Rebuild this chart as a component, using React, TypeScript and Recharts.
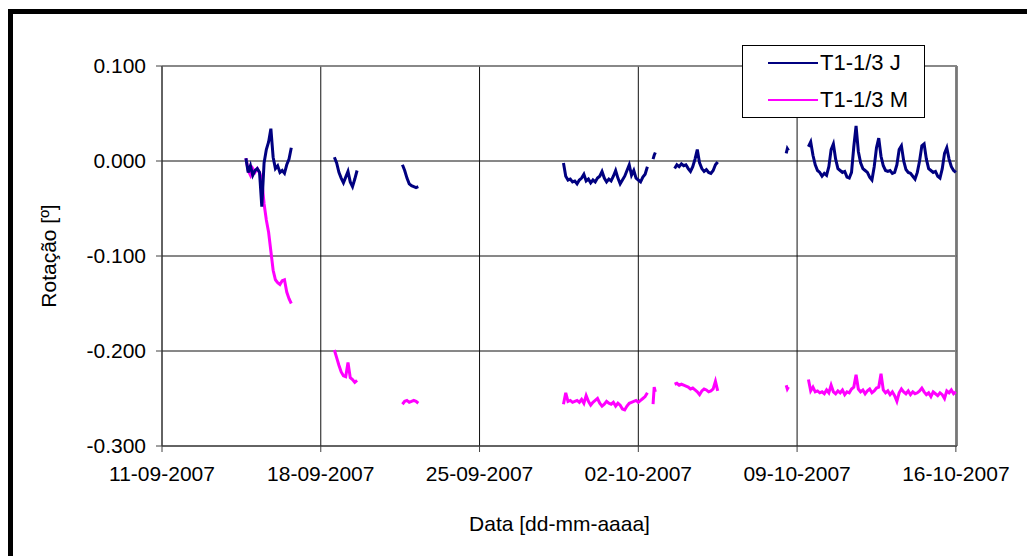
import React from 'react';
import { LineChart, Line, XAxis, YAxis, CartesianGrid, Legend, ReferenceLine } from 'recharts';

// eixo X: dias contados a partir de 11-09-2007
const tickDays = [0, 7, 14, 21, 28, 35];
const tickDates = ['11-09-2007', '18-09-2007', '25-09-2007', '02-10-2007', '09-10-2007', '16-10-2007'];
const yTicks = [-0.3, -0.2, -0.1, 0, 0.1];

// inicio e passo (dias) de cada trecho de leitura
const segStarts = [3.7, 7.6, 10.6, 17.7, 21.65, 22.6, 27.52, 28.5];
const segSteps = [0.1, 0.1, 0.1, 0.1, 0.05, 0.1, 0.05, 0.1];

// T1-1/3 J
const j1 = [0.003, -0.012, -0.005, -0.015, -0.010, -0.008, -0.012, -0.048, -0.002, 0.012, 0.020, 0.034, 0.004, -0.008, -0.005, -0.012, -0.010, -0.013, -0.004, 0.002, 0.014];
const j2 = [0.004, -0.002, -0.012, -0.018, -0.023, -0.017, -0.011, -0.022, -0.027, -0.019, -0.010];
const j3 = [-0.004, -0.010, -0.018, -0.024, -0.026, -0.027, -0.028, -0.027];
const j4 = [-0.002, -0.016, -0.020, -0.019, -0.022, -0.021, -0.024, -0.020, -0.018, -0.014, -0.021, -0.019, -0.023, -0.020, -0.022, -0.018, -0.016, -0.011, -0.018, -0.022, -0.019, -0.021, -0.016, -0.010, -0.018, -0.024, -0.020, -0.016, -0.010, -0.004, -0.015, -0.010, -0.018, -0.020, -0.022, -0.017, -0.014, -0.006];
const j5 = [0.002, 0.006, 0.009];
const j6 = [-0.008, -0.004, -0.006, -0.003, -0.005, -0.004, -0.008, -0.011, -0.006, 0.002, 0.012, -0.002, -0.008, -0.011, -0.009, -0.012, -0.013, -0.010, -0.004, -0.001];
const j7 = [0.008, 0.013, 0.011];
const j8 = [0.015, 0.020, 0.006, -0.004, -0.010, -0.012, -0.016, -0.013, -0.015, -0.006, 0.012, 0.018, 0.002, -0.008, -0.010, -0.012, -0.011, -0.017, -0.018, -0.012, 0.015, 0.037, 0.010, -0.002, -0.008, -0.010, -0.012, -0.017, -0.020, -0.006, 0.014, 0.024, 0.005, -0.005, -0.010, -0.011, -0.010, -0.013, -0.012, -0.004, 0.012, 0.016, 0.000, -0.009, -0.012, -0.013, -0.016, -0.019, -0.012, 0.000, 0.016, 0.018, 0.002, -0.008, -0.010, -0.012, -0.011, -0.016, -0.018, -0.008, 0.008, 0.014, 0.002, -0.006, -0.010, -0.012];

// T1-1/3 M
const m1 = [0.003, -0.010, -0.015, -0.008, -0.012, -0.008, -0.012, -0.020, -0.045, -0.062, -0.075, -0.095, -0.115, -0.125, -0.128, -0.130, -0.126, -0.125, -0.138, -0.145, -0.150];
const m2 = [-0.199, -0.207, -0.215, -0.222, -0.226, -0.227, -0.212, -0.228, -0.230, -0.233, -0.231];
const m3 = [-0.256, -0.253, -0.252, -0.254, -0.253, -0.252, -0.253, -0.255];
const m4 = [-0.256, -0.244, -0.253, -0.252, -0.254, -0.253, -0.252, -0.254, -0.251, -0.255, -0.247, -0.253, -0.257, -0.254, -0.252, -0.250, -0.255, -0.258, -0.256, -0.253, -0.255, -0.256, -0.254, -0.258, -0.255, -0.257, -0.261, -0.262, -0.258, -0.255, -0.254, -0.253, -0.252, -0.254, -0.252, -0.250, -0.248, -0.244];
const m5 = [-0.256, -0.238, -0.243];
const m6 = [-0.235, -0.234, -0.236, -0.235, -0.236, -0.237, -0.238, -0.240, -0.239, -0.241, -0.243, -0.246, -0.242, -0.240, -0.241, -0.243, -0.242, -0.240, -0.232, -0.242];
const m7 = [-0.236, -0.240, -0.238];
const m8 = [-0.230, -0.242, -0.238, -0.243, -0.242, -0.244, -0.243, -0.245, -0.241, -0.244, -0.236, -0.243, -0.245, -0.242, -0.244, -0.241, -0.246, -0.243, -0.244, -0.240, -0.238, -0.225, -0.240, -0.243, -0.241, -0.245, -0.242, -0.240, -0.244, -0.242, -0.239, -0.238, -0.224, -0.241, -0.244, -0.242, -0.246, -0.243, -0.247, -0.253, -0.244, -0.240, -0.243, -0.245, -0.242, -0.246, -0.243, -0.245, -0.244, -0.242, -0.239, -0.243, -0.246, -0.244, -0.248, -0.243, -0.245, -0.247, -0.244, -0.246, -0.250, -0.242, -0.244, -0.241, -0.245, -0.243];

const jSegs = [j1, j2, j3, j4, j5, j6, j7, j8];
const mSegs = [m1, m2, m3, m4, m5, m6, m7, m8];

type Row = { t: number; j: number | null; m: number | null };

const buildRows = (): Row[] => {
  const rows: Row[] = [];
  jSegs.forEach((js, s) => {
    const t0 = segStarts[s];
    const step = segSteps[s];
    js.forEach((v, i) => {
      rows.push({ t: +(t0 + i * step).toFixed(3), j: v, m: mSegs[s][i] });
    });
    // quebra entre trechos (sem leitura)
    rows.push({ t: +(t0 + (js.length - 0.5) * step).toFixed(3), j: null, m: null });
  });
  return rows;
};

const chartData = buildRows();

const font = { fontFamily: '"Liberation Sans", Arial, sans-serif', fontSize: 21, fill: '#000' };

const renderLegend = () => (
  <div
    style={{
      width: 181,
      height: 71,
      border: '1px solid #000',
      background: '#fff',
      fontFamily: '"Liberation Sans", Arial, sans-serif',
      fontSize: 22,
      color: '#000',
      position: 'relative',
    }}
  >
    {[
      { label: 'T1-1/3 J', color: '#000080', top: 17 },
      { label: 'T1-1/3 M', color: '#FF00FF', top: 54 },
    ].map((it) => (
      <div key={it.label} style={{ position: 'absolute', left: 25, top: it.top - 12, height: 24, display: 'flex', alignItems: 'center' }}>
        <div style={{ width: 50, height: 2, background: it.color }} />
        <span style={{ marginLeft: 2, lineHeight: '24px' }}>{it.label}</span>
      </div>
    ))}
  </div>
);

const App: React.FC = () => {
  return (
    <div style={{ position: 'absolute', left: 8, top: 9, width: 1019, height: 547, borderLeft: '5px solid #000', borderTop: '5px solid #000', background: '#fff', overflow: 'hidden' }}>
      <LineChart width={1014} height={542} data={chartData} margin={{ top: 52, right: 70, bottom: 0, left: 0 }}>
        <CartesianGrid stroke="#111" strokeWidth={1} />
        <XAxis
          dataKey="t"
          type="number"
          domain={[0, 35]}
          ticks={tickDays}
          tickFormatter={(v: number) => tickDates[tickDays.indexOf(v)]}
          tick={font}
          tickSize={6}
          tickMargin={14}
          height={110}
          stroke="#404040"
          interval={0}
          label={{ value: 'Data [dd-mm-aaaa]', position: 'insideBottom', offset: 25, style: font }}
        />
        <YAxis
          type="number"
          domain={[-0.3, 0.1]}
          ticks={yTicks}
          tickFormatter={(v: number) => v.toFixed(3)}
          tick={font}
          tickSize={6}
          tickMargin={10}
          width={149}
          stroke="#404040"
          interval={0}
          label={{ value: 'Rotação [º]', angle: -90, position: 'insideLeft', offset: 36, style: { ...font, textAnchor: 'middle' } }}
        />
        <ReferenceLine y={0.1} stroke="#888" strokeWidth={1.5} />
        <ReferenceLine x={35} stroke="#888" strokeWidth={1.5} />
        <Legend
          layout="vertical"
          align="center"
          verticalAlign="middle"
          content={renderLegend}
          wrapperStyle={{ position: 'absolute', left: 729, top: 31, width: 183, height: 73 }}
        />
        <Line type="linear" dataKey="m" name="T1-1/3 M" stroke="#FF00FF" strokeWidth={3} dot={false} isAnimationActive={false} connectNulls={false} />
        <Line type="linear" dataKey="j" name="T1-1/3 J" stroke="#000080" strokeWidth={3} dot={false} isAnimationActive={false} connectNulls={false} />
      </LineChart>
    </div>
  );
};

export default App;
